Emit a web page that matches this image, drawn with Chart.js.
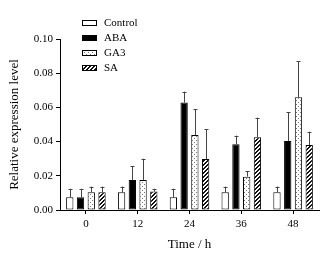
<!DOCTYPE html>
<html>
<head>
<meta charset="utf-8">
<script src="https://cdn.jsdelivr.net/npm/chart.js@4.4.1/dist/chart.umd.min.js"></script>
<style>
	html, body { margin: 0; padding: 0; background: #fff; }
	#wrap { width: 333px; height: 256px; position: relative; }
</style>
</head>
<body>
<div id="wrap"><canvas id="chart-expression"></canvas></div>
<script>
// ----------------------------------------------
// Data
// ----------------------------------------------
const HOURS = ["0", "12", "24", "36", "48"];
const SERIES = ["Control", "ABA", "GA3", "SA"];

const CONTROL = [0.0075, 0.0104, 0.0075, 0.0104, 0.0104];
const ABA = [0.0075, 0.0176, 0.0628, 0.0384, 0.0404];
const GA3 = [0.0104, 0.0176, 0.0439, 0.0195, 0.0659];
const SA = [0.0104, 0.0108, 0.0298, 0.0425, 0.038];

// upper error bar lengths
const CONTROL_ERR = [0.0049, 0.0033, 0.0049, 0.0033, 0.0033];
const ABA_ERR = [0.0049, 0.0079, 0.0064, 0.0051, 0.0167];
const GA3_ERR = [0.0033, 0.0124, 0.0151, 0.0033, 0.0212];
const SA_ERR = [0.0033, 0.0016, 0.0174, 0.0115, 0.0078];

const Y_TICKS = [0, 0.02, 0.04, 0.06, 0.08, 0.1];

const SERIF = "'Liberation Serif', 'DejaVu Serif', serif";
const CANVAS = document.getElementById("chart-expression");

// ----------------------------------------------
// Fill patterns
// ----------------------------------------------
const makePattern = (size, draw) => {
	const tile = document.createElement("canvas");
	tile.width = size;
	tile.height = size;
	const t = tile.getContext("2d");
	t.fillStyle = "#fff";
	t.fillRect(0, 0, size, size);
	draw(t);
	return CANVAS.getContext("2d").createPattern(tile, "repeat");
};

const DOTS = makePattern(4, (t) => {
	t.fillStyle = "#777";
	t.fillRect(0, 0, 1, 1);
	t.fillRect(2, 2, 1, 1);
});

const HATCH = makePattern(4, (t) => {
	t.fillStyle = "#111";
	for (let i = 0; i < 4; i++) {
		t.fillRect(i, 3 - i, 1, 1);
		t.fillRect((i + 1) % 4, 3 - i, 1, 1);
	}
});

const FILLS = ["#fff", "#000", DOTS, HATCH];
const VALUES = [CONTROL, ABA, GA3, SA];
const ERRORS = [CONTROL_ERR, ABA_ERR, GA3_ERR, SA_ERR];

// ----------------------------------------------
// Plugins: error bars + legend
// ----------------------------------------------
const errorBars = {
	id: "errorBars",
	afterDatasetsDraw(chart) {
		const { ctx, scales } = chart;
		ctx.save();
		ctx.strokeStyle = "#444";
		ctx.lineWidth = 1;
		chart.data.datasets.forEach((ds, i) => {
			chart.getDatasetMeta(i).data.forEach((bar, j) => {
				const x = Math.round(bar.x) + 0.5;
				const yTop = scales.y.getPixelForValue(ds.data[j] + ds.errors[j]);
				const yBar = bar.y;
				ctx.beginPath();
				ctx.moveTo(x, yBar);
				ctx.lineTo(x, yTop);
				ctx.moveTo(x - 2, Math.round(yTop) + 0.5);
				ctx.lineTo(x + 2, Math.round(yTop) + 0.5);
				ctx.stroke();
			});
		});
		ctx.restore();
	},
};

const boxLegend = {
	id: "boxLegend",
	afterDraw(chart) {
		const { ctx } = chart;
		ctx.save();
		ctx.font = "11px " + SERIF;
		ctx.textBaseline = "middle";
		chart.data.datasets.forEach((ds, i) => {
			const y = 20 + i * 15;
			ctx.fillStyle = ds.backgroundColor;
			ctx.fillRect(82, y, 15, 6);
			ctx.strokeStyle = "#000";
			ctx.lineWidth = 1;
			ctx.strokeRect(82.5, y + 0.5, 14, 5);
			ctx.fillStyle = "#000";
			ctx.fillText(ds.label, 104, y + 3);
		});
		ctx.restore();
	},
};

// ----------------------------------------------
// Chart
// ----------------------------------------------
const CHART_DATA = {
	labels: HOURS,
	datasets: SERIES.map((name, i) => ({
		label: name,
		data: VALUES[i],
		errors: ERRORS[i],
		backgroundColor: FILLS[i],
		borderColor: "#000",
		borderWidth: 1,
		borderSkipped: false,
		categoryPercentage: 0.83,
		barPercentage: 0.68,
	})),
};

const CHART_CONFIG = {
	type: "bar",
	data: CHART_DATA,
	options: {
		animation: false,
		responsive: true,
		maintainAspectRatio: false,
		layout: {
			padding: { top: 39, right: 14, left: 0, bottom: 0 },
		},
		plugins: {
			legend: { display: false },
			tooltip: { enabled: false },
		},
		scales: {
			x: {
				border: { display: true, color: "#000", width: 1 },
				grid: {
					display: true,
					drawOnChartArea: false,
					offset: false,
					tickLength: 4,
					color: "#000",
				},
				ticks: {
					color: "#000",
					padding: 4,
					font: { family: SERIF, size: 11 },
				},
				title: {
					display: true,
					text: "Time / h",
					color: "#000",
					padding: { top: 0, bottom: 4 },
					font: { family: SERIF, size: 13 },
				},
				afterFit: (scale) => {
					scale.height = 46;
				},
			},
			y: {
				min: 0,
				max: 0.1,
				border: { display: true, color: "#000", width: 1 },
				grid: {
					display: true,
					drawOnChartArea: false,
					tickLength: 4,
					color: "#000",
				},
				afterBuildTicks: (scale) => {
					scale.ticks = Y_TICKS.map((v) => ({ value: v }));
				},
				ticks: {
					color: "#000",
					padding: 3,
					font: { family: SERIF, size: 11 },
					callback: (value) => value.toFixed(2),
				},
				title: {
					display: true,
					text: "Relative expression level",
					color: "#000",
					padding: { top: 7, bottom: 0 },
					font: { family: SERIF, size: 13 },
				},
				afterFit: (scale) => {
					scale.width = 60;
				},
			},
		},
	},
	plugins: [errorBars, boxLegend],
};

new Chart(CANVAS, CHART_CONFIG);
</script>
</body>
</html>
